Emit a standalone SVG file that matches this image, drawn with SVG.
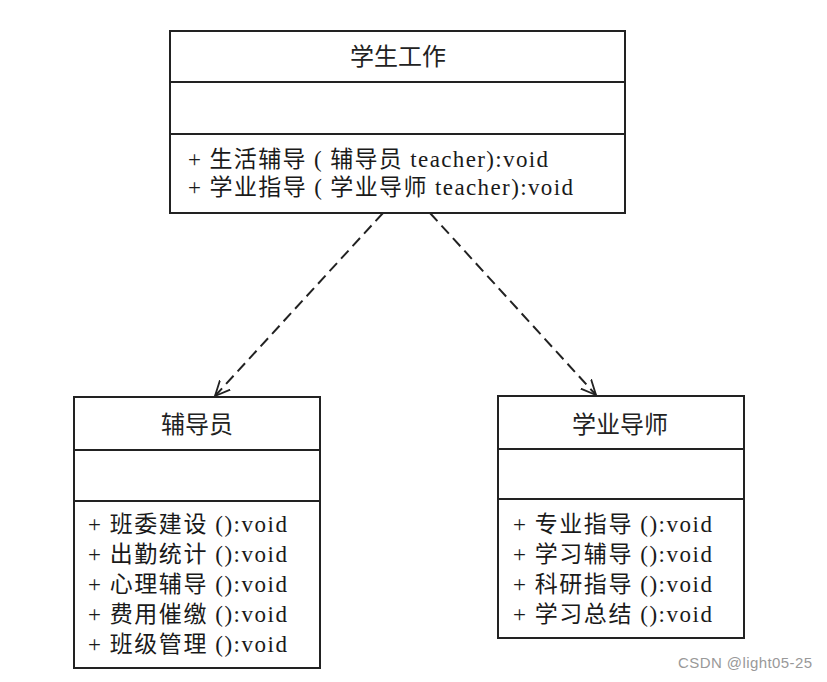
<svg xmlns="http://www.w3.org/2000/svg" width="827" height="682" viewBox="0 0 827 682">
<style>
.box{fill:#fff;stroke:#222;stroke-width:2}
.div{stroke:#222;stroke-width:2}
.title{font-family:"Noto Sans CJK SC","Liberation Sans",sans-serif;font-size:24px;fill:#222;text-anchor:middle}
.m{font-family:"Liberation Serif","Noto Sans CJK SC",serif;font-size:23px;fill:#1a1a1a}
.dep{fill:none;stroke:#222;stroke-width:2;stroke-dasharray:11 6}
.wm{font-family:"Liberation Sans","Noto Sans",sans-serif;font-size:15px;fill:#999}
</style>
<defs>
<marker id="open" viewBox="0 0 16 16" refX="15" refY="8" markerWidth="16" markerHeight="16" markerUnits="userSpaceOnUse" orient="auto">
<path d="M0,1 L15,8 L0,15" fill="none" stroke="#222" stroke-width="1.8"/>
</marker>
</defs>
<rect width="827" height="682" fill="#fff"/>
<g id="connectors">
<line class="dep" x1="383" y1="213" x2="215" y2="396" marker-end="url(#open)"/>
<line class="dep" x1="430" y1="213" x2="596" y2="395" marker-end="url(#open)"/>
</g>
<g id="student-work">
<rect class="box" x="170" y="31" width="455" height="182"/>
<line class="div" x1="170" y1="82" x2="625" y2="82"/>
<line class="div" x1="170" y1="134" x2="625" y2="134"/>
<text class="title" x="398" y="65">学生工作</text>
<text class="m" x="188" y="167" textLength="360" lengthAdjust="spacing">+ 生活辅导 ( 辅导员 teacher):void</text>
<text class="m" x="188" y="195" textLength="385" lengthAdjust="spacing">+ 学业指导 ( 学业导师 teacher):void</text>
</g>
<g id="counselor">
<rect class="box" x="74" y="397" width="246" height="271"/>
<line class="div" x1="74" y1="450" x2="320" y2="450"/>
<line class="div" x1="74" y1="501" x2="320" y2="501"/>
<text class="title" x="197" y="433">辅导员</text>
<text class="m" x="88" y="532" textLength="199" lengthAdjust="spacing">+ 班委建设 ():void</text>
<text class="m" x="88" y="562" textLength="199" lengthAdjust="spacing">+ 出勤统计 ():void</text>
<text class="m" x="88" y="592" textLength="199" lengthAdjust="spacing">+ 心理辅导 ():void</text>
<text class="m" x="88" y="622" textLength="199" lengthAdjust="spacing">+ 费用催缴 ():void</text>
<text class="m" x="88" y="652" textLength="199" lengthAdjust="spacing">+ 班级管理 ():void</text>
</g>
<g id="tutor">
<rect class="box" x="498" y="396" width="246" height="242"/>
<line class="div" x1="498" y1="449" x2="744" y2="449"/>
<line class="div" x1="498" y1="499" x2="744" y2="499"/>
<text class="title" x="620" y="433">学业导师</text>
<text class="m" x="513" y="532" textLength="199" lengthAdjust="spacing">+ 专业指导 ():void</text>
<text class="m" x="513" y="562" textLength="199" lengthAdjust="spacing">+ 学习辅导 ():void</text>
<text class="m" x="513" y="592" textLength="199" lengthAdjust="spacing">+ 科研指导 ():void</text>
<text class="m" x="513" y="622" textLength="199" lengthAdjust="spacing">+ 学习总结 ():void</text>
</g>
<text class="wm" x="678" y="668" textLength="134" lengthAdjust="spacing">CSDN @light05-25</text>
</svg>
